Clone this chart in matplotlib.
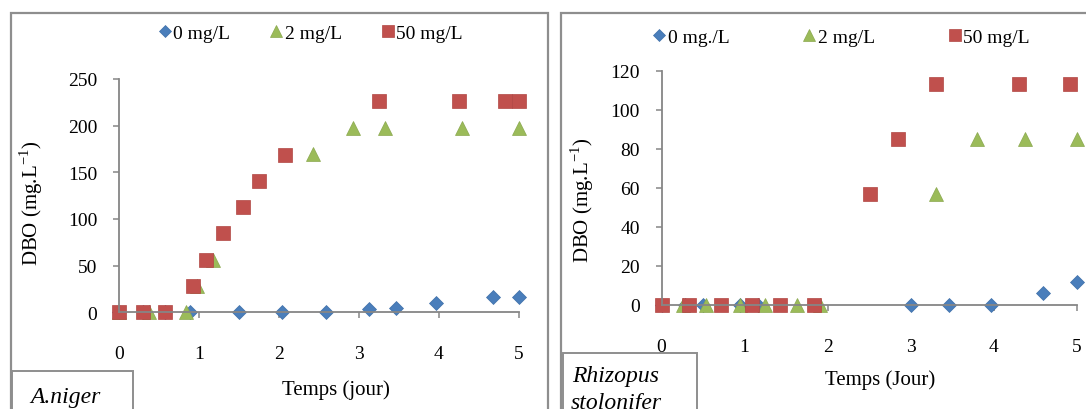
import matplotlib
matplotlib.use('Agg')
import matplotlib.pyplot as plt
from matplotlib.patches import Rectangle

plt.rcParams['font.family'] = ['Liberation Serif', 'DejaVu Serif']
plt.rcParams['mathtext.fontset'] = 'custom'
plt.rcParams['mathtext.rm'] = 'Liberation Serif'

# A. niger
an_blue_x = [0, 0.3, 0.57, 0.89, 1.5, 2.04, 2.59, 3.12, 3.46, 3.96, 4.67, 5.0]
an_blue_y = [0, 0, 0, 0, 0, 0, 0, 3.6, 5, 10, 16, 16]
an_green_x = [0, 0.37, 0.84, 0.97, 1.17, 2.42, 2.92, 3.33, 4.29, 5.0]
an_green_y = [0, 0, 0, 28, 56, 170, 198, 198, 198, 198]
an_red_x = [0, 0.3, 0.575, 0.92, 1.09, 1.30, 1.55, 1.75, 2.08, 3.25, 4.25, 4.83, 5.0]
an_red_y = [0, 0, 0, 28.5, 56, 85, 113, 141, 169, 226, 226, 226, 226]

# Rhizopus stolonifer
rs_blue_x = [0, 0.28, 0.50, 0.95, 1.16, 3.0, 3.46, 3.96, 4.59, 5.0]
rs_blue_y = [0, 0, 0, 0, 0, 0, 0, 0, 6, 12]
rs_green_x = [0.26, 0.54, 0.945, 1.25, 1.63, 1.91, 3.30, 3.80, 4.38, 5.0]
rs_green_y = [0, 0, 0, 0, 0, 0, 56.7, 85, 85, 85]
rs_red_x = [0, 0.33, 0.71, 1.085, 1.42, 1.835, 2.51, 2.84, 3.30, 4.30, 4.92]
rs_red_y = [0, 0, 0, 0, 0, 0, 56.7, 85, 113.3, 113.3, 113.3]

an_labels = ['0 mg/L', '2 mg/L', '50 mg/L']
rs_labels = ['0 mg./L', '2 mg/L', '50 mg/L']

BLUE = '#4A7EBB'
GREEN = '#9BBB59'
RED = '#C0504D'
AXIS = '#868686'
FRAME = '#8E8E8E'

W, H = 1086, 410
fig = plt.figure(figsize=(W / 100, H / 100), dpi=100)
fig.patch.set_facecolor('white')


def px_rect(x0, y_top, x1, y_bot):
    # pixel box (top-left origin) -> figure fraction rect
    return [x0 / W, 1 - y_bot / H, (x1 - x0) / W, (y_bot - y_top) / H]


def frame(x0, y_top, x1, y_bot, lw=1.6):
    r = Rectangle((x0 / W, 1 - y_bot / H), (x1 - x0) / W, (y_bot - y_top) / H,
                  transform=fig.transFigure, facecolor='white', edgecolor=FRAME,
                  linewidth=lw, zorder=0)
    fig.add_artist(r)
    return r


frame(11, 14, 548, 430)
frame(561, 14, 1100, 430)


def panel(rect, series, labels, ymax, ystep, leg_anchor, colspace, xlabel, xlab_pos):
    ax = fig.add_axes(rect)
    ax.set_facecolor('none')
    styles = [('D', 7.3, BLUE, '#3F6FA8'), ('^', 10, GREEN, '#8AA84E'), ('s', 10, RED, '#B04643')]
    for (xs, ys), (m, ms, c, ec), lab in zip(series, styles, labels):
        ax.plot(xs, ys, linestyle='none', marker=m, markersize=ms, color=c,
                markeredgecolor=ec, markeredgewidth=0.5, clip_on=False, label=lab)
    ax.set_xlim(0, 5)
    ax.set_ylim(0, ymax)
    ax.set_xticks(range(0, 6))
    ax.set_yticks(range(0, ymax + 1, ystep))
    for s in ['top', 'right']:
        ax.spines[s].set_visible(False)
    for s in ['left', 'bottom']:
        ax.spines[s].set_color(AXIS)
        ax.spines[s].set_linewidth(1.3)
    ax.tick_params(axis='x', direction='out', length=4.5, width=1.1, color=AXIS,
                   labelsize=14, pad=19)
    ax.tick_params(axis='y', direction='out', length=4.5, width=1.1, color=AXIS,
                   labelsize=14, pad=11)
    ax.legend(loc='center', bbox_to_anchor=leg_anchor, bbox_transform=fig.transFigure,
              ncol=3, frameon=False, fontsize=14, handlelength=0.6,
              handletextpad=0.15, columnspacing=colspace, markerscale=0.85,
              borderpad=0)
    fig.text(xlab_pos[0] / W, 1 - xlab_pos[1] / H, xlabel, ha='center', va='center',
             fontsize=15)
    return ax


panel(px_rect(119, 80, 519, 313.3),
      [(an_blue_x, an_blue_y), (an_green_x, an_green_y), (an_red_x, an_red_y)],
      an_labels, 250, 50, (311 / W, 1 - 34 / H), 2.05, 'Temps (jour)', (336, 390))
fig.text(31 / W, 1 - 203 / H, 'DBO (mg.L$^{-1}$)', rotation=90, ha='center', va='center',
         fontsize=15)

panel(px_rect(661.5, 71.7, 1077, 306),
      [(rs_blue_x, rs_blue_y), (rs_green_x, rs_green_y), (rs_red_x, rs_red_y)],
      rs_labels, 120, 20, (841.5 / W, 1 - 38 / H), 3.8, 'Temps (Jour)', (880, 380))
fig.text(582 / W, 1 - 200 / H, 'DBO (mg.L$^{-1}$)', rotation=90, ha='center', va='center',
         fontsize=15)

# species tags in the lower-left corners
frame(12, 372, 133, 430, lw=1.4)
fig.text(65 / W, 1 - 398 / H, 'A.niger', style='italic', ha='center', va='center',
         fontsize=17)
frame(563, 354, 697, 430, lw=1.4)
fig.text(616 / W, 1 - 377 / H, 'Rhizopus', style='italic', ha='center', va='center',
         fontsize=17)
fig.text(616 / W, 1 - 404 / H, 'stolonifer', style='italic', ha='center', va='center',
         fontsize=17)

fig.savefig('out.png', dpi=100, facecolor='white')
